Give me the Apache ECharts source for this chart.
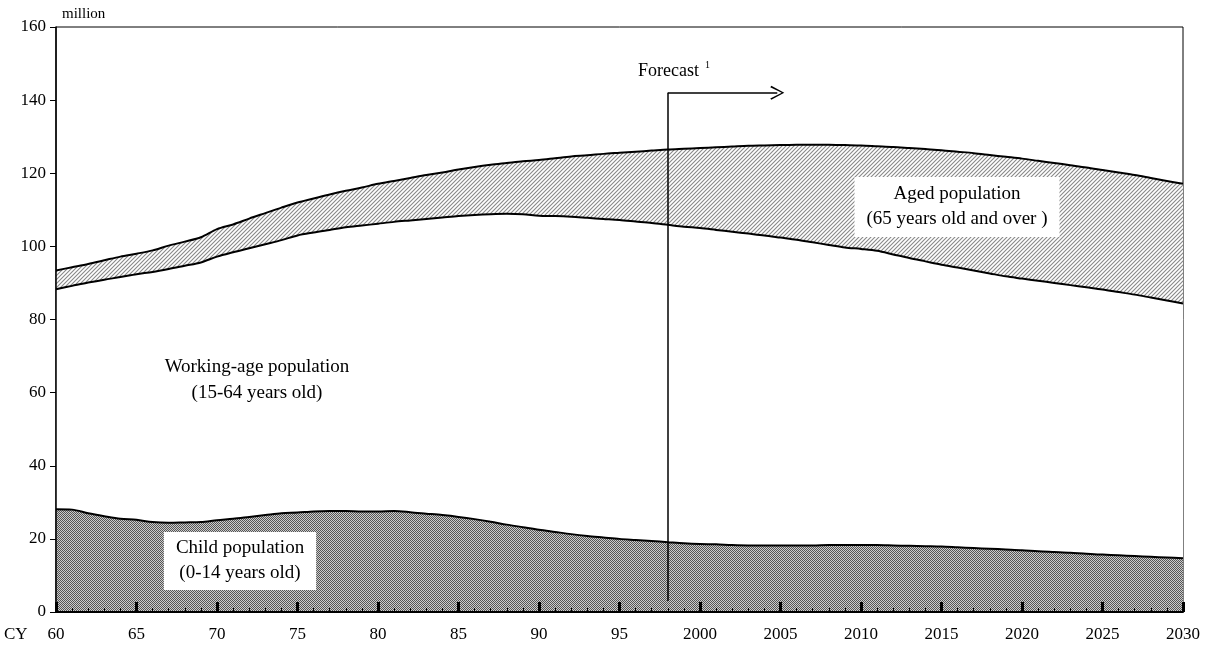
<!DOCTYPE html>
<html>
<head>
<meta charset="utf-8">
<title>Population</title>
<script src="https://cdn.jsdelivr.net/npm/echarts@6/dist/echarts.min.js"></script>
<style>html,body{margin:0;padding:0;background:#fff}#chart{width:1215px;height:654px}</style>
</head>
<body>
<div id="chart"></div>
<script>
var years = [];
for (var y = 1960; y <= 2030; y++) years.push(y);
// total population (top line), million
var totalPop = [93.4,94.3,95.2,96.2,97.2,98.0,98.9,100.2,101.3,102.5,104.7,106.0,107.6,109.1,110.6,112.0,113.1,114.2,115.2,116.1,
  117.1,117.9,118.7,119.5,120.2,121.0,121.7,122.3,122.8,123.3,123.6,124.1,124.6,124.9,125.3,125.6,125.9,126.2,126.5,126.7,
  126.9,127.1,127.3,127.5,127.6,127.7,127.8,127.8,127.8,127.7,127.6,127.4,127.2,126.9,126.6,126.3,125.9,125.5,125.0,124.5,
  124.0,123.4,122.8,122.2,121.6,120.9,120.2,119.5,118.7,117.9,117.1];
// child + working-age population (middle line)
var underAged = [88.3,89.2,90.1,90.9,91.6,92.4,93.0,93.8,94.7,95.6,97.2,98.4,99.5,100.6,101.7,103.0,103.8,104.5,105.2,105.7,
  106.2,106.7,107.1,107.5,107.9,108.3,108.6,108.8,108.9,108.8,108.4,108.3,108.1,107.8,107.5,107.2,106.8,106.4,105.9,105.4,
  105.0,104.5,104.0,103.5,103.0,102.4,101.8,101.1,100.4,99.7,99.3,98.8,97.8,96.8,95.9,95.0,94.2,93.4,92.6,91.8,
  91.2,90.6,90.0,89.4,88.8,88.2,87.5,86.8,86.0,85.2,84.4];
// child population (0-14)
var childPop = [28.1,28.0,27.0,26.2,25.5,25.2,24.6,24.4,24.5,24.6,25.1,25.5,26.0,26.5,27.0,27.2,27.5,27.6,27.6,27.5,
  27.5,27.6,27.3,26.9,26.5,26.0,25.4,24.7,23.9,23.2,22.5,21.9,21.3,20.8,20.4,20.0,19.7,19.4,19.1,18.8,
  18.6,18.5,18.3,18.2,18.2,18.2,18.2,18.2,18.3,18.3,18.3,18.3,18.2,18.1,18.0,17.9,17.7,17.5,17.3,17.1,
  16.9,16.6,16.4,16.2,15.9,15.7,15.5,15.3,15.1,14.9,14.7];
var forecastYear = 1998, forecastEnd = 2004.8, forecastTop = 142;

function pair(a){ return years.map(function(y,i){ return [y, a[i]]; }); }

function hatch(){
  var c = document.createElement('canvas'); c.width = 4; c.height = 4;
  var g = c.getContext('2d');
  g.fillStyle = '#fff'; g.fillRect(0,0,4,4);
  g.strokeStyle = '#888'; g.lineWidth = 1.1;
  g.beginPath(); g.moveTo(-1,5); g.lineTo(5,-1); g.moveTo(-1,1); g.lineTo(1,-1); g.moveTo(3,5); g.lineTo(5,3); g.stroke();
  return c;
}
function checker(){
  var c = document.createElement('canvas'); c.width = 2; c.height = 2;
  var g = c.getContext('2d');
  g.fillStyle = '#ccc'; g.fillRect(0,0,2,2);
  g.fillStyle = '#555'; g.fillRect(0,0,1,1); g.fillRect(1,1,1,1);
  return c;
}

var font = '"Liberation Serif", "Times New Roman", serif';
var chevron = 'path://M0,10 L5,0 L10,10 L9,10.8 L5,2 L1,10.8 Z';
var chart = echarts.init(document.getElementById('chart'));
chart.setOption({
  animation: false,
  grid: {left: 56, right: 32, top: 27, bottom: 42, show: true, borderColor: '#000', borderWidth: 1},
  xAxis: {
    type: 'value', min: 1960, max: 2030, interval: 5, z: 20,
    axisLine: {lineStyle: {color: '#000', width: 2}},
    axisTick: {inside: true, length: 10, lineStyle: {color: '#000', width: 3}},
    minorTick: {show: true, splitNumber: 5, length: 4, lineStyle: {color: '#000'}},
    splitLine: {show: false},
    axisLabel: {color: '#000', fontFamily: font, fontSize: 17, margin: 14,
      formatter: function(v){ return v < 2000 ? String(v).slice(2) : String(v); }}
  },
  yAxis: {
    type: 'value', min: 0, max: 160, interval: 20, z: 20,
    axisLine: {show: true, lineStyle: {color: '#000', width: 1.5}},
    axisTick: {show: true, length: 6, lineStyle: {color: '#000'}},
    splitLine: {show: false},
    axisLabel: {color: '#000', fontFamily: font, fontSize: 17, margin: 10}
  },
  series: [
    {type: 'line', data: pair(totalPop), symbol: 'none', smooth: 0.3,
      lineStyle: {color: '#000', width: 2},
      areaStyle: {color: {image: hatch(), repeat: 'repeat'}, opacity: 1}, z: 1},
    {type: 'line', data: pair(underAged), symbol: 'none', smooth: 0.3,
      lineStyle: {color: '#000', width: 2},
      areaStyle: {color: '#fff', opacity: 1}, z: 2},
    {type: 'line', data: pair(childPop), symbol: 'none', smooth: 0.3,
      lineStyle: {color: '#000', width: 2},
      areaStyle: {color: {image: checker(), repeat: 'repeat'}, opacity: 1}, z: 3,
      markLine: {silent: true, symbol: ['none', 'none'], label: {show: false},
        lineStyle: {color: '#000', width: 1.5, type: 'solid'},
        data: [
          [{coord: [forecastYear, 3]}, {coord: [forecastYear, forecastTop]}],
          [{coord: [forecastYear, forecastTop], symbol: 'none'}, {coord: [forecastEnd, forecastTop], symbol: chevron, symbolSize: [14, 14]}]
        ]}}
  ],
  graphic: [
    {type: 'text', left: 62, top: 7, style: {text: 'million', font: '15px ' + font, fill: '#000'}},
    {type: 'text', left: 4, top: 626, style: {text: 'CY', font: '17px ' + font, fill: '#000'}},
    {type: 'text', left: 638, top: 62, z: 10, style: {text: 'Forecast', font: '18px ' + font, fill: '#000'}},
    {type: 'text', left: 705, top: 60, z: 10, style: {text: '1', font: '10px ' + font, fill: '#000'}},
    {type: 'text', x: 957, y: 207, z: 10, style: {text: 'Aged population\n(65 years old and over )', font: '19px ' + font, fill: '#000',
      align: 'center', verticalAlign: 'middle', lineHeight: 25, backgroundColor: '#fff', padding: [5, 12]}},
    {type: 'text', x: 257, y: 380, z: 10, style: {text: 'Working-age population\n(15-64 years old)', font: '19px ' + font, fill: '#000',
      align: 'center', verticalAlign: 'middle', lineHeight: 26}},
    {type: 'text', x: 240, y: 561, z: 10, style: {text: 'Child population\n(0-14 years old)', font: '19px ' + font, fill: '#000',
      align: 'center', verticalAlign: 'middle', lineHeight: 25, backgroundColor: '#fff', padding: [4, 12]}}
  ]
});
</script>
</body>
</html>
